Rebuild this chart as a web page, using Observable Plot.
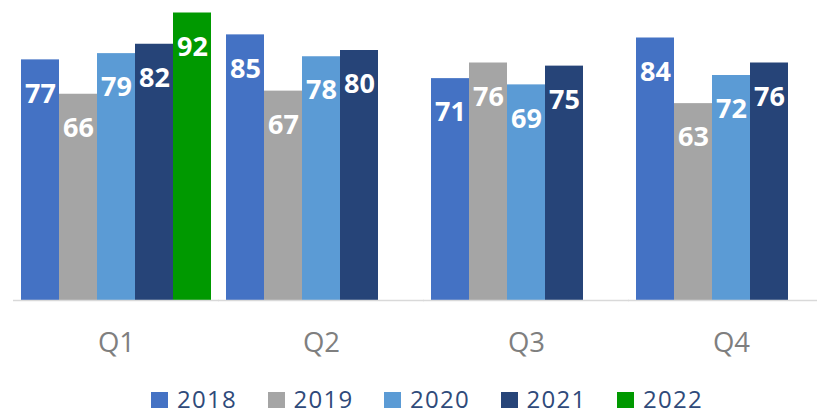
<!DOCTYPE html>
<html>
<head>
<meta charset="utf-8">
<script src="https://cdn.jsdelivr.net/npm/d3@7"></script>
<script src="https://cdn.jsdelivr.net/npm/@observablehq/plot@0.6"></script>
<style>
  html, body { margin: 0; padding: 0; background: white; overflow: hidden; }
  #wrap { position: relative; width: 817px; height: 416px; overflow: hidden; }
  #legend { position: absolute; left: 151px; top: 384px; display: flex; font-family: "Open Sans", sans-serif; font-size: 24px; letter-spacing: 1.3px; color: #2F4A7A; }
  .item { display: flex; align-items: center; width: 116.5px; height: 30px; line-height: 30px; }
  .sw { width: 17px; height: 16px; margin-right: 9px; margin-top: 1px; }
  #chart svg [aria-label^="fx-axis"] { font-size: 27.5px; }
  #chart svg [aria-label^="fx-axis"] text { font-size: 27.5px; }
</style>
</head>
<body>
<div id="wrap"><div id="chart"></div><div id="legend"></div></div>
<script>
const quarters = ["Q1", "Q2", "Q3", "Q4"];
const years = ["2018", "2019", "2020", "2021", "2022"];
const colors = ["#4472C4", "#A5A5A5", "#5B9BD5", "#264478", "#009900"];
const v2018 = [77, 85, 71, 84];
const v2019 = [66, 67, 76, 63];
const v2020 = [79, 78, 69, 72];
const v2021 = [82, 80, 75, 76];
const v2022 = [92, null, null, null];

const series = [v2018, v2019, v2020, v2021, v2022];
const data = [];
quarters.forEach((q, i) => {
  years.forEach((y, j) => {
    const v = series[j][i];
    if (v != null) data.push({quarter: q, year: y, value: v});
  });
});

const chart = Plot.plot({
  width: 817,
  height: 370,
  marginTop: 0,
  marginBottom: 70,
  marginLeft: 18,
  marginRight: 0,
  style: {fontFamily: "'Open Sans', sans-serif", fontSize: "27.5px", color: "#7F7F7F", background: "white", overflow: "visible"},
  fx: {domain: quarters, range: [18, 828.5], paddingInner: 11.5 / 205.5, paddingOuter: 0, axis: "bottom", tickSize: 0, tickPadding: 32, label: null},
  x: {domain: years, padding: 0, axis: null},
  y: {domain: [0, 96], axis: null},
  color: {domain: years, range: colors},
  marks: [
    Plot.barY(data, {fx: "quarter", x: "year", y: "value", fill: "year"}),
    Plot.ruleY([0], {stroke: "#D9D9D9", strokeWidth: 1.3, insetLeft: -6, insetRight: -6}),
    Plot.text(data, {fx: "quarter", x: "year", y: "value", text: d => String(d.value), fill: "white", fontSize: 27, fontWeight: "bold", dy: 34})
  ]
});
document.getElementById("chart").appendChild(chart);

const legend = document.getElementById("legend");
years.forEach((y, j) => {
  const it = document.createElement("div");
  it.className = "item";
  const sw = document.createElement("div");
  sw.className = "sw";
  sw.style.background = colors[j];
  const t = document.createElement("span");
  t.textContent = y;
  it.appendChild(sw);
  it.appendChild(t);
  legend.appendChild(it);
});
</script>
</body>
</html>
